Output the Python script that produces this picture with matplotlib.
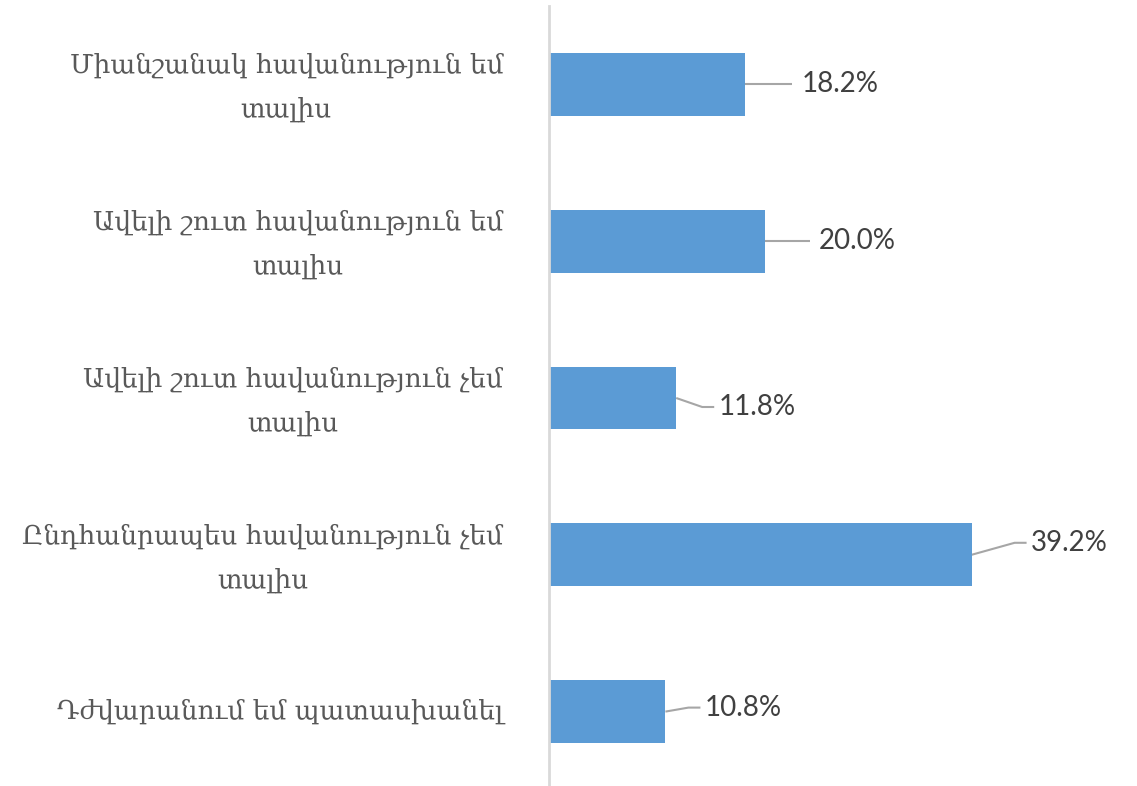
import matplotlib
matplotlib.use("Agg")
import matplotlib.pyplot as plt
from matplotlib.transforms import ScaledTranslation

categories = [
    "Միանշանակ հավանություն եմ\nտալիս",
    "Ավելի շուտ հավանություն եմ\nտալիս",
    "Ավելի շուտ հավանություն չեմ\nտալիս",
    "Ընդհանրապես հավանություն չեմ\nտալիս",
    "Դժվարանում եմ պատասխանել",
]
values = [18.2, 20.0, 11.8, 39.2, 10.8]
value_labels = ["18.2%", "20.0%", "11.8%", "39.2%", "10.8%"]

# label offsets in pixels from the bar end (dx right, dy up)
label_dx = [56, 54, 42, 59, 39]
label_dy = [0, 0, -9, 12, 4]

W, H, DPI = 1137, 786, 100
fig = plt.figure(figsize=(W / DPI, H / DPI), dpi=DPI)
ax_left_px, ax_top_px, ax_bot_px = 549, 6, 790
xmax = 50.0
px_per_unit = 10.78
ax_w_px = xmax * px_per_unit
ax = fig.add_axes([ax_left_px / W, (H - ax_bot_px) / H, ax_w_px / W, (ax_bot_px - ax_top_px) / H])

ypos = list(range(len(categories)))
ax.barh(ypos, values, height=0.4, color="#5B9BD5", edgecolor="none", zorder=2)
ax.set_xlim(0, xmax)
ax.set_ylim(len(categories) - 0.5, -0.5)

for s in ["top", "right", "bottom"]:
    ax.spines[s].set_visible(False)
ax.spines["left"].set_color("#D9D9D9")
ax.spines["left"].set_linewidth(2)
ax.set_xticks([])
ax.set_yticks(ypos)
ax.set_yticklabels(categories, family=["DejaVu Serif", "DejaVu Sans"], fontsize=19,
                   color="#595959", multialignment="center", linespacing=1.95)
ax.tick_params(axis="y", length=0, pad=33)
for lbl in ax.get_yticklabels():
    shift_px = 9 if "\n" in lbl.get_text() else 3
    lbl.set_transform(lbl.get_transform() + ScaledTranslation(0, shift_px / DPI, fig.dpi_scale_trans))

y_per_px = 1.0 / ((ax_bot_px - ax_top_px) / len(categories))
x_per_px = 1.0 / px_per_unit
for i, (v, lab, dx, dy) in enumerate(zip(values, value_labels, label_dx, label_dy)):
    lx = v + dx * x_per_px
    ly = i - dy * y_per_px
    if dy == 0:
        xs = [v, lx - 9 * x_per_px]
        ys = [i, i]
    else:
        xs = [v, lx - 16 * x_per_px, lx - 4 * x_per_px]
        ys = [i, ly, ly]
    ax.plot(xs, ys, color="#A6A6A6", lw=1.5, zorder=1, solid_capstyle="butt", clip_on=False)
    ax.text(lx, ly, lab, ha="left", va="center", fontsize=20, family="Lato",
            color="#404040", clip_on=False)

fig.savefig("out.png", dpi=DPI)
